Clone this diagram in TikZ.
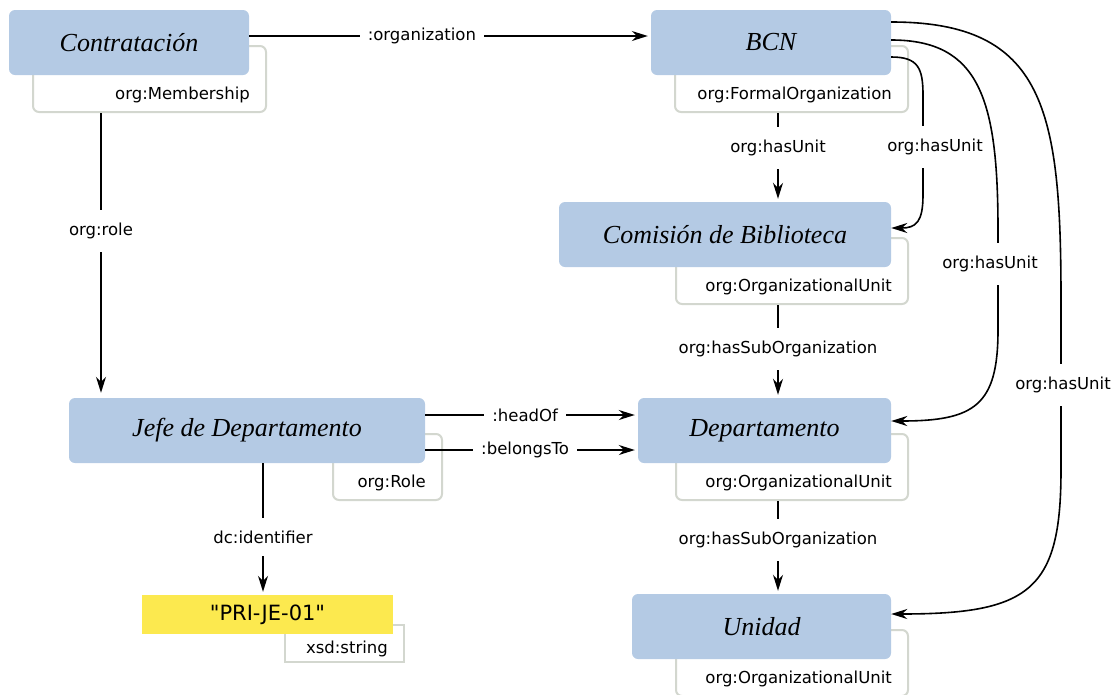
\documentclass[tikz,border=0pt]{standalone}
\usepackage{fontspec}
\setsansfont{DejaVu Sans}
\newfontfamily\namefont{Liberation Serif}
\newfontfamily\litfont{DejaVu Sans}[Ligatures=TeXOff]
\usetikzlibrary{arrows.meta}
\definecolor{nodeblue}{RGB}{180,202,228}
\definecolor{typegray}{RGB}{211,215,207}
\definecolor{lityellow}{RGB}{252,233,79}
\begin{document}
\begin{tikzpicture}[x=1pt,y=-1pt,
  resource/.style={fill=nodeblue, rounded corners=6pt, inner sep=0pt,
    minimum height=65pt, font=\namefont\itshape\fontsize{26}{30}\selectfont},
  typebox/.style={draw=typegray, line width=2pt, fill=white, rounded corners=6pt,
    inner sep=0pt, minimum height=66pt},
  typelabel/.style={anchor=base east, inner sep=0pt, font=\sffamily\fontsize{16.5}{20}\selectfont},
  literal/.style={fill=lityellow, inner sep=0pt, font=\litfont\fontsize{21}{25}\selectfont},
  link/.style={line width=1.6pt, -{Stealth[length=16pt,width=10pt,inset=5pt]}, shorten >=3pt},
  elabel/.style={fill=white, inner xsep=8pt, inner ysep=13pt, font=\sffamily\fontsize{16.5}{20}\selectfont},
]
\clip (0,0) rectangle (1112,694);

% type boxes (behind the resources)
\node[typebox, minimum width=233pt] (contrT) at (149.5,79) {};
\node[typebox, minimum width=233pt] (bcnT)   at (791.5,79) {};
\node[typebox, minimum width=232pt] (comT)   at (792,271) {};
\node[typebox, minimum width=109pt] (jefeT)  at (387.5,467) {};
\node[typebox, minimum width=232pt] (deptT)  at (792,467) {};
\node[typebox, minimum width=232pt] (uniT)   at (792,663) {};
\node[typebox, minimum width=119pt, minimum height=37pt, rounded corners=0pt] (priT) at (344.5,643.5) {};

\node[typelabel] (contrL) at ([xshift=-17pt,yshift=14pt]contrT.south east) {org:Membership};
\node[typelabel] (bcnL)   at ([xshift=-17pt,yshift=14pt]bcnT.south east) {org:FormalOrganization};
\node[typelabel] (comL)   at ([xshift=-17pt,yshift=14pt]comT.south east) {org:OrganizationalUnit};
\node[typelabel] (jefeL)  at ([xshift=-17pt,yshift=14pt]jefeT.south east) {org:Role};
\node[typelabel] (deptL)  at ([xshift=-17pt,yshift=14pt]deptT.south east) {org:OrganizationalUnit};
\node[typelabel] (uniL)   at ([xshift=-17pt,yshift=14pt]uniT.south east) {org:OrganizationalUnit};
\node[typelabel] (priL)   at ([xshift=-17pt,yshift=9.5pt]priT.south east) {xsd:string};

% resources
\node[resource, minimum width=240pt] (contr) at (129,42.5) {Contratación};
\node[resource, minimum width=240pt] (bcn)   at (771,42.5) {BCN};
\node[resource, minimum width=332pt] (com)   at (725,234.5) {Comisión de Biblioteca};
\node[resource, minimum width=356pt] (jefe)  at (247,430.5) {Jefe de Departamento};
\node[resource, minimum width=253pt] (dept)  at (764.5,430.5) {Departamento};
\node[resource, minimum width=259pt] (uni)   at (761.5,626.5) {Unidad};
\node[literal, minimum width=251pt, minimum height=39pt] (pri) at (267.5,614.5) {"PRI-JE-01"};

% straight properties
\draw[link] ([yshift=6.5pt]contr.east) -- node[elabel, pos=0.43] (eOrg) {:organization} ([yshift=6.5pt]bcn.west);
\draw[link, shorten >=5pt] ([xshift=-48.5pt]contrT.south) -- node[elabel, pos=0.414] (eRole) {org:role} ([xshift=-146pt]jefe.north);
\draw[link] ([xshift=-13.5pt]bcnT.south) -- node[elabel, pos=0.39] (eUnit1) {org:hasUnit} ([xshift=53pt]com.north);
\draw[link] ([xshift=-14pt]comT.south) -- node[elabel, pos=0.47] (eSub1) {org:hasSubOrganization} ([xshift=13.5pt]dept.north);
\draw[link] ([xshift=-14pt]deptT.south) -- node[elabel, pos=0.415] (eSub2) {org:hasSubOrganization} ([xshift=16.5pt]uni.north);
\draw[link] ([xshift=16pt]jefe.south) -- node[elabel, pos=0.56] (eId) {dc:identifier} ([xshift=-4.5pt]pri.north);
\draw[link] ([yshift=15.5pt]jefe.east) -- node[elabel, inner ysep=3pt, pos=0.47] (eHead) {:headOf} ([yshift=15.5pt]dept.west);
\draw[link] ([yshift=-19.5pt]jefe.east) -- node[elabel, inner ysep=3pt, pos=0.47] (eBel) {:belongsTo} ([yshift=-19.5pt]dept.west);

% curved org:hasUnit links from BCN
\draw[link, shorten >=0pt] ([yshift=-14.5pt]bcn.east)
  .. controls (918,57) and (923,68) .. (923,95) -- (923,195)
  .. controls (923,222) and (916,228) .. ([yshift=6.5pt]com.east);
\draw[link, shorten >=0pt] ([yshift=2.5pt]bcn.east)
  .. controls (980,40) and (998,100) .. (998,230) -- (998,330)
  .. controls (998,405) and (975,421) .. ([yshift=9.5pt]dept.east);
\draw[link, shorten >=0pt] ([yshift=20.5pt]bcn.east)
  .. controls (1045,22) and (1061,110) .. (1061,300) -- (1061,470)
  .. controls (1061,590) and (1030,614) .. ([yshift=12.5pt]uni.east);

\node[elabel, inner xsep=3pt] (eUnit2) at (935,147) {org:hasUnit};
\node[elabel] (eUnit3) at (990,264) {org:hasUnit};
\node[elabel] (eUnit4) at (1063,385) {org:hasUnit};
\end{tikzpicture}
\end{document}
